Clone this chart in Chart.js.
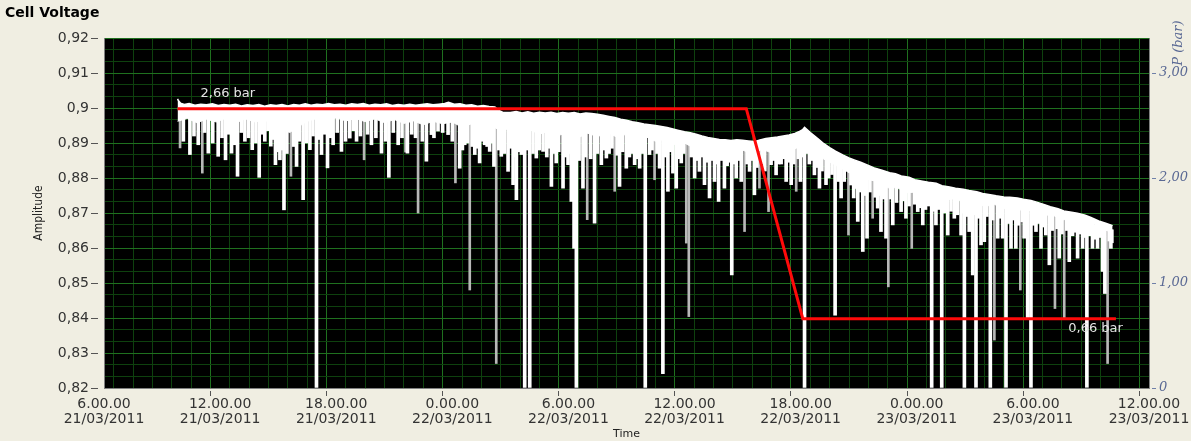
<!DOCTYPE html>
<html>
<head>
<meta charset="utf-8">
<script src="https://cdn.jsdelivr.net/npm/chart.js@4/dist/chart.umd.min.js"></script>
<style>
  html, body { margin: 0; padding: 0; background: #F0EEE2; }
  canvas { display: block; }
</style>
</head>
<body>
<canvas id="chart" width="1191" height="441"></canvas>
<script>
// Time axis: hours since 21/03/2011 06:00
const xTickLabels = [
  ['6.00.00', '21/03/2011'], ['12.00.00', '21/03/2011'], ['18.00.00', '21/03/2011'],
  ['0.00.00', '22/03/2011'], ['6.00.00', '22/03/2011'], ['12.00.00', '22/03/2011'],
  ['18.00.00', '22/03/2011'], ['0.00.00', '23/03/2011'], ['6.00.00', '23/03/2011'],
  ['12.00.00', '23/03/2011']
];
const yTickLabels = ['0,82', '0,83', '0,84', '0,85', '0,86', '0,87', '0,88', '0,89', '0,9', '0,91', '0,92'];
const pTickLabels = ['0', '1,00', '2,00', '3,00'];

// Cell voltage: upper edge of the trace [hour, V]
const bandTop = [
  [3.80, 0.9026], [3.86, 0.9020], [3.95, 0.9014], [4.15, 0.9010], [4.4, 0.9013], [4.7, 0.9008],
  [5.0, 0.9011], [5.3, 0.9009], [5.6, 0.9012], [5.9, 0.9007], [6.2, 0.9010], [6.5, 0.9008],
  [6.8, 0.9011], [7.1, 0.9006], [7.4, 0.9009], [7.7, 0.9007], [8.0, 0.9010], [8.3, 0.9005],
  [8.6, 0.9009], [8.9, 0.9007], [9.2, 0.9010], [9.5, 0.9006], [9.8, 0.9010], [10.1, 0.9008],
  [10.4, 0.9012], [10.7, 0.9008], [11.0, 0.9011], [11.3, 0.9009], [11.6, 0.9013], [11.9, 0.9009],
  [12.2, 0.9011], [12.5, 0.9008], [12.8, 0.9012], [13.1, 0.9010], [13.4, 0.9013], [13.7, 0.9008],
  [14.0, 0.9011], [14.3, 0.9009], [14.6, 0.9012], [14.9, 0.9007], [15.2, 0.9010], [15.5, 0.9008],
  [15.8, 0.9011], [16.1, 0.9008], [16.4, 0.9010], [16.7, 0.9012], [17.0, 0.9009], [17.3, 0.9011],
  [17.6, 0.9013], [17.8, 0.9016], [18.1, 0.9011], [18.4, 0.9012], [18.7, 0.9008], [19.0, 0.9009],
  [19.3, 0.9005], [19.6, 0.9007], [19.9, 0.9004], [20.2, 0.9003], [20.4, 0.8993], [20.6, 0.8988],
  [21.0, 0.8987], [21.3, 0.8990], [21.6, 0.8986], [21.9, 0.8989], [22.2, 0.8985], [22.5, 0.8988],
  [22.8, 0.8986], [23.1, 0.8988], [23.4, 0.8984], [23.7, 0.8987], [24.0, 0.8985], [24.3, 0.8987],
  [24.6, 0.8983], [24.9, 0.8986], [25.2, 0.8984], [25.5, 0.8982], [25.8, 0.8979], [26.1, 0.8976],
  [26.4, 0.8973], [26.7, 0.8968], [27.0, 0.8965], [27.3, 0.8961], [27.6, 0.8958], [27.9, 0.8954],
  [28.2, 0.8952], [28.5, 0.8950], [28.8, 0.8947], [29.1, 0.8944], [29.4, 0.8940], [29.7, 0.8936],
  [30.0, 0.8932], [30.3, 0.8929], [30.6, 0.8925], [30.9, 0.8920], [31.2, 0.8916], [31.5, 0.8913],
  [31.8, 0.8910], [32.1, 0.8909], [32.4, 0.8907], [32.7, 0.8909], [33.0, 0.8908], [33.3, 0.8906],
  [33.6, 0.8904], [33.9, 0.8909], [34.2, 0.8913], [34.5, 0.8915], [34.8, 0.8917], [35.1, 0.8920],
  [35.4, 0.8923], [35.7, 0.8927], [35.9, 0.8932], [36.1, 0.8938], [36.2, 0.8945], [36.3, 0.8940],
  [36.5, 0.8930], [36.9, 0.8912], [37.2, 0.8898], [37.5, 0.8887], [37.8, 0.8877], [38.2, 0.8865],
  [38.5, 0.8857], [38.8, 0.8851], [39.1, 0.8845], [39.5, 0.8836], [39.8, 0.8829], [40.2, 0.8822],
  [40.6, 0.8815], [40.9, 0.8812], [41.2, 0.8806], [41.6, 0.8802], [41.9, 0.8795], [42.3, 0.8791],
  [42.6, 0.8788], [43.0, 0.8785], [43.3, 0.8778], [43.7, 0.8774], [44.0, 0.8771], [44.4, 0.8768],
  [44.7, 0.8764], [45.1, 0.8761], [45.4, 0.8756], [45.8, 0.8752], [46.1, 0.8749], [46.5, 0.8746],
  [46.8, 0.8745], [47.2, 0.8743], [47.5, 0.8739], [47.9, 0.8736], [48.2, 0.8731], [48.6, 0.8724],
  [48.9, 0.8718], [49.3, 0.8712], [49.6, 0.8706], [50.0, 0.8702], [50.3, 0.8699], [50.7, 0.8694],
  [51.0, 0.8687], [51.4, 0.8677], [51.8, 0.8670], [52.12, 0.8664]
];

// Cell voltage: lower edge of the dense part of the trace [hour, V]
const bandBase = [
  [3.80, 0.8962], [4.3, 0.8970], [4.8, 0.8958], [5.3, 0.8968], [5.8, 0.8960], [6.3, 0.8971],
  [6.8, 0.8957], [7.3, 0.8969], [7.8, 0.8960], [8.3, 0.8966], [8.8, 0.8948], [9.2, 0.8938],
  [9.6, 0.8930], [10.0, 0.8945], [10.5, 0.8962], [11.0, 0.8970], [11.5, 0.8961], [12.0, 0.8972],
  [12.5, 0.8963], [13.0, 0.8970], [13.5, 0.8961], [14.0, 0.8969], [14.5, 0.8958], [15.0, 0.8967],
  [15.5, 0.8956], [16.0, 0.8963], [16.5, 0.8952], [17.0, 0.8962], [17.5, 0.8955], [18.0, 0.8960],
  [18.5, 0.8945], [19.0, 0.8955], [19.5, 0.8943], [20.0, 0.8950], [20.5, 0.8935], [21.0, 0.8942],
  [21.5, 0.8930], [22.0, 0.8938], [22.5, 0.8925], [23.0, 0.8935], [23.5, 0.8922], [24.0, 0.8930],
  [24.5, 0.8915], [25.0, 0.8928], [25.5, 0.8918], [26.0, 0.8930], [26.5, 0.8917], [27.0, 0.8925],
  [27.5, 0.8912], [28.0, 0.8918], [28.5, 0.8905], [29.0, 0.8910], [29.5, 0.8895], [30.0, 0.8900],
  [30.5, 0.8885], [31.0, 0.8890], [31.5, 0.8876], [32.0, 0.8882], [32.5, 0.8870], [33.0, 0.8880],
  [33.5, 0.8868], [34.0, 0.8882], [34.5, 0.8872], [35.0, 0.8886], [35.5, 0.8876], [36.0, 0.8893],
  [36.5, 0.8882], [37.0, 0.8860], [37.5, 0.8845], [38.0, 0.8832], [38.5, 0.8815], [39.0, 0.8810],
  [39.5, 0.8795], [40.0, 0.8790], [40.5, 0.8772], [41.0, 0.8772], [41.5, 0.8758], [42.0, 0.8760],
  [42.5, 0.8746], [43.0, 0.8750], [43.5, 0.8736], [44.0, 0.8742], [44.5, 0.8728], [45.0, 0.8733],
  [45.5, 0.8718], [46.0, 0.8725], [46.5, 0.8712], [47.0, 0.8718], [47.5, 0.8705], [48.0, 0.8708],
  [48.5, 0.8693], [49.0, 0.8695], [49.5, 0.8680], [50.0, 0.8684], [50.5, 0.8670], [51.0, 0.8672],
  [51.5, 0.8655], [52.12, 0.8645]
];

// Voltage dips: [hour, lowest V]
const dipsBright = [
  [4.44, 0.8867], [4.87, 0.8895], [5.39, 0.8871], [5.90, 0.8862], [6.28, 0.8852], [6.59, 0.8871],
  [6.90, 0.8805], [7.28, 0.8905], [7.66, 0.8881], [8.02, 0.8802], [8.31, 0.8905], [8.62, 0.8891],
  [8.86, 0.8838], [9.09, 0.8852], [9.30, 0.8709], [9.95, 0.8833], [10.29, 0.8738], [10.64, 0.8881],
  [10.98, 0.8202], [11.24, 0.8867], [11.55, 0.8829], [11.84, 0.8895], [12.27, 0.8876], [12.70, 0.8914],
  [13.05, 0.8905], [13.82, 0.8895], [14.34, 0.8871], [14.72, 0.8802], [15.20, 0.8895],
  [4.10, 0.8905], [4.65, 0.8920], [5.20, 0.8930], [5.62, 0.8900], [6.10, 0.8915], [6.45, 0.8925],
  [6.75, 0.8895], [7.10, 0.8930], [7.47, 0.8915], [7.85, 0.8900], [8.17, 0.8925], [8.47, 0.8935],
  [8.74, 0.8910], [8.98, 0.8875], [9.20, 0.8880], [9.45, 0.8870], [9.80, 0.8890], [10.10, 0.8905],
  [10.46, 0.8900], [10.80, 0.8920], [11.10, 0.8910], [11.40, 0.8925], [11.70, 0.8915], [12.05, 0.8930],
  [12.48, 0.8905], [12.88, 0.8935], [13.25, 0.8920], [13.62, 0.8925], [14.05, 0.8915], [14.55, 0.8905],
  [14.95, 0.8930], [15.40, 0.8915],
  [15.68, 0.8871], [16.66, 0.8848], [16.92, 0.8924], [17.26, 0.8934], [17.78, 0.8924], [18.38, 0.8828],
  [18.64, 0.8895], [19.16, 0.8867], [19.41, 0.8843], [19.67, 0.8895], [19.93, 0.8876], [20.15, 0.8833],
  [20.53, 0.8862], [20.88, 0.8819], [21.14, 0.8781], [21.31, 0.8738], [21.57, 0.8867], [21.74, 0.8202],
  [22.00, 0.8202], [22.34, 0.8857], [22.69, 0.8876], [23.12, 0.8776], [23.37, 0.8843], [23.72, 0.8771],
  [23.98, 0.8838], [24.15, 0.8733], [24.29, 0.8599], [24.41, 0.8202], [24.75, 0.8771], [25.35, 0.8671],
  [25.70, 0.8838], [25.96, 0.8857], [26.64, 0.8776], [26.99, 0.8828], [27.42, 0.8838], [27.68, 0.8828],
  [27.97, 0.8202],
  [15.90, 0.8925], [16.10, 0.8915], [16.45, 0.8905], [17.05, 0.8915], [17.50, 0.8930], [18.00, 0.8905],
  [18.52, 0.8880], [18.78, 0.8900], [19.03, 0.8890], [19.29, 0.8885], [19.54, 0.8905], [19.80, 0.8890],
  [20.05, 0.8900], [20.40, 0.8880], [20.70, 0.8870], [21.00, 0.8885], [21.22, 0.8860], [21.45, 0.8875],
  [21.88, 0.8880], [22.17, 0.8870], [22.50, 0.8880], [22.88, 0.8860], [23.00, 0.8885], [23.25, 0.8870],
  [23.50, 0.8875], [23.85, 0.8860], [24.05, 0.8870], [24.55, 0.8850], [24.88, 0.8860], [25.15, 0.8855],
  [25.50, 0.8870], [25.83, 0.8880], [26.10, 0.8870], [26.25, 0.8885], [26.52, 0.8865], [26.80, 0.8875],
  [27.15, 0.8860], [27.30, 0.8870], [27.55, 0.8855], [27.82, 0.8870],
  [28.19, 0.8867], [28.71, 0.8828], [28.88, 0.8241], [29.14, 0.8762], [29.40, 0.8814], [29.57, 0.8771],
  [29.83, 0.8843], [30.52, 0.8800], [30.77, 0.8819], [31.03, 0.8781], [31.29, 0.8743], [31.55, 0.8790],
  [31.76, 0.8733], [32.06, 0.8771], [32.44, 0.8523], [32.67, 0.8800], [32.93, 0.8790], [33.36, 0.8819],
  [33.61, 0.8752], [34.47, 0.8838], [34.73, 0.8809], [34.99, 0.8840], [35.25, 0.8790], [35.51, 0.8781],
  [35.99, 0.8790], [36.20, 0.8202], [36.45, 0.8840], [36.71, 0.8809], [36.97, 0.8771], [37.31, 0.8781],
  [37.78, 0.8408], [38.09, 0.8743], [38.74, 0.8743], [38.95, 0.8676], [39.21, 0.8590], [39.43, 0.8628],
  [39.98, 0.8714], [40.15, 0.8647], [40.41, 0.8628],
  [28.32, 0.8880], [28.58, 0.8870], [29.00, 0.8860], [29.27, 0.8875], [29.70, 0.8855], [29.95, 0.8870],
  [30.35, 0.8860], [30.65, 0.8850], [30.90, 0.8860], [31.16, 0.8845], [31.42, 0.8850], [31.65, 0.8840],
  [31.90, 0.8850], [32.20, 0.8835], [32.32, 0.8845], [32.55, 0.8840], [32.80, 0.8850], [33.23, 0.8840],
  [33.48, 0.8850], [33.74, 0.8830], [34.00, 0.8840], [34.15, 0.8820], [34.60, 0.8850], [34.86, 0.8840],
  [35.12, 0.8855], [35.38, 0.8845], [35.64, 0.8840], [35.88, 0.8855], [36.08, 0.8860], [36.32, 0.8870],
  [36.58, 0.8850], [36.84, 0.8830], [37.10, 0.8820], [37.45, 0.8800], [37.62, 0.8810], [37.95, 0.8790],
  [38.25, 0.8790], [38.60, 0.8780], [38.85, 0.8770], [39.08, 0.8760], [39.32, 0.8750], [39.58, 0.8760],
  [39.85, 0.8745], [40.05, 0.8750], [40.28, 0.8740],
  [40.76, 0.8666], [41.19, 0.8704], [41.44, 0.8685], [42.05, 0.8704], [42.31, 0.8666], [42.77, 0.8202],
  [42.99, 0.8666], [43.29, 0.8202], [43.60, 0.8637], [43.94, 0.8685], [44.29, 0.8637], [44.46, 0.8202],
  [44.71, 0.8647], [44.89, 0.8523], [45.06, 0.8202], [45.32, 0.8609], [45.49, 0.8618], [45.80, 0.8202],
  [46.18, 0.8628], [46.44, 0.8628], [46.61, 0.8202], [46.87, 0.8599], [47.12, 0.8599], [47.55, 0.8628],
  [47.73, 0.8399], [47.90, 0.8202], [48.16, 0.8647], [48.42, 0.8599], [48.67, 0.8637], [48.85, 0.8552],
  [49.36, 0.8571], [49.88, 0.8561], [50.31, 0.8571], [50.57, 0.8599], [50.79, 0.8202], [51.08, 0.8599],
  [51.34, 0.8599], [51.60, 0.8533], [51.72, 0.8470], [52.03, 0.8599],
  [40.65, 0.8740], [40.95, 0.8730], [41.32, 0.8735], [41.60, 0.8720], [41.90, 0.8725], [42.18, 0.8715],
  [42.45, 0.8710], [42.62, 0.8720], [42.88, 0.8705], [43.13, 0.8710], [43.45, 0.8700], [43.77, 0.8705],
  [44.10, 0.8695], [44.38, 0.8700], [44.58, 0.8690], [44.98, 0.8695], [45.18, 0.8685], [45.62, 0.8690],
  [45.92, 0.8680], [46.30, 0.8685], [46.74, 0.8670], [46.98, 0.8680], [47.24, 0.8665], [47.45, 0.8675],
  [47.65, 0.8670], [48.02, 0.8665], [48.28, 0.8670], [48.55, 0.8660], [49.00, 0.8650], [49.25, 0.8655],
  [49.50, 0.8640], [49.75, 0.8650], [50.05, 0.8635], [50.20, 0.8645], [50.45, 0.8640], [50.68, 0.8630],
  [50.93, 0.8635], [51.20, 0.8625], [51.47, 0.8630], [51.95, 0.8620], [52.08, 0.8615]
];
const dipsFaint = [
  [3.93, 0.8886], [5.08, 0.8814], [9.66, 0.8805], [13.44, 0.8852], [15.58, 0.8874],
  [16.23, 0.8700], [18.16, 0.8786], [18.90, 0.8480], [20.27, 0.8270], [24.97, 0.8681], [26.39, 0.8762],
  [28.45, 0.8795], [30.09, 0.8614], [30.22, 0.8404], [33.10, 0.8647], [33.87, 0.8771], [34.34, 0.8704],
  [35.77, 0.8762], [38.47, 0.8637], [39.72, 0.8685],
  [40.53, 0.8489], [41.74, 0.8599], [46.01, 0.8337], [47.35, 0.8480], [49.14, 0.8427], [49.62, 0.8399],
  [51.86, 0.8270]
];

// Pressure set point [hour, bar]
const pressure = [[3.80, 2.66], [33.19, 2.66], [36.11, 0.66], [52.29, 0.66]];

const GRID_MAJOR = '#1f701f';
const GRID_MINOR = '#0e410e';
const FONT = "'DejaVu Sans', Verdana, sans-serif";

const toXY = arr => arr.map(([x, y]) => ({ x, y }));
function topNear(h) {
  let best = bandTop[0];
  for (const p of bandTop) if (Math.abs(p[0] - h) < Math.abs(best[0] - h)) best = p;
  return best[1];
}
const toDip = arr => arr.map(([h, lo]) => ({ x: h, y: [lo, topNear(h) - 0.0012] }));
const fmtBar = v => v.toFixed(2).replace('.', ',') + ' bar';

const hourTicks = Array.from({ length: 55 }, (_, i) => i);
const voltTicks = Array.from({ length: 31 }, (_, i) => 0.82 + i / 300);

const panel = {
  id: 'panel',
  beforeDraw(chart) {
    const { ctx, chartArea: a } = chart;
    ctx.save();
    ctx.fillStyle = '#F0EEE2';
    ctx.fillRect(0, 0, chart.width, chart.height);
    ctx.fillStyle = '#000000';
    ctx.fillRect(a.left, a.top, a.right - a.left, a.bottom - a.top);
    ctx.restore();
  }
};

const annotations = {
  id: 'annotations',
  afterDatasetsDraw(chart) {
    const { ctx, scales: { x, y1 } } = chart;
    const first = pressure[0], last = pressure[pressure.length - 1];
    ctx.save();
    ctx.font = '13px ' + FONT;
    ctx.fillStyle = '#e4e4e4';
    ctx.textBaseline = 'middle';
    ctx.textAlign = 'left';
    ctx.fillText(fmtBar(first[1]), x.getPixelForValue(first[0]) + 23, y1.getPixelForValue(first[1]) - 15);
    ctx.textAlign = 'right';
    ctx.fillText(fmtBar(last[1]), x.getPixelForValue(last[0]) + 7, y1.getPixelForValue(last[1]) + 10);
    ctx.restore();
  },
  afterDraw(chart) {
    const { ctx } = chart;
    ctx.save();
    ctx.translate(1179, 43);
    ctx.rotate(-Math.PI / 2);
    ctx.font = "italic 13px 'DejaVu Serif', serif";
    ctx.fillStyle = '#5a6994';
    ctx.textAlign = 'center';
    ctx.textBaseline = 'middle';
    ctx.fillText('P (bar)', 0, 0);
    ctx.restore();
  }
};

new Chart(document.getElementById('chart'), {
  type: 'line',
  data: {
    datasets: [
      {
        label: 'P',
        yAxisID: 'y1',
        data: toXY(pressure),
        borderColor: '#ff0a0a',
        borderWidth: 3,
        pointRadius: 0,
        tension: 0,
        fill: false
      },
      {
        label: 'Cell Voltage',
        data: toXY(bandTop),
        borderColor: '#ffffff',
        borderWidth: 1.5,
        backgroundColor: '#ffffff',
        pointRadius: 0,
        tension: 0,
        fill: '+1'
      },
      {
        label: 'Cell Voltage base',
        data: toXY(bandBase),
        borderColor: '#ffffff',
        borderWidth: 1,
        pointRadius: 0,
        tension: 0,
        fill: false
      },
      {
        type: 'bar',
        label: 'dips',
        data: toDip(dipsBright),
        backgroundColor: '#ffffff',
        borderWidth: 0,
        barThickness: 3,
        grouped: false
      },
      {
        type: 'bar',
        label: 'dips faint',
        data: toDip(dipsFaint),
        backgroundColor: '#b8b8b8',
        borderWidth: 0,
        barThickness: 2,
        grouped: false
      }
    ]
  },
  options: {
    responsive: false,
    animation: false,
    devicePixelRatio: 1,
    layout: { padding: { left: 5, top: 0, right: 0, bottom: 0 } },
    plugins: {
      legend: { display: false },
      tooltip: { enabled: false },
      title: {
        display: true,
        text: 'Cell Voltage',
        align: 'start',
        color: '#000000',
        font: { family: FONT, size: 14, weight: 'bold', lineHeight: 1.2 },
        padding: { top: 5, bottom: 16.2 }
      }
    },
    scales: {
      x: {
        type: 'linear',
        min: 0,
        max: 54,
        offset: false,
        afterBuildTicks: s => { s.ticks = hourTicks.map(v => ({ value: v })); },
        afterFit: s => { s.height = 53; },
        ticks: {
          autoSkip: false,
          maxRotation: 0,
          minRotation: 0,
          padding: 1,
          color: '#333333',
          font: { family: FONT, size: 14, lineHeight: 1.08 },
          callback: v => (v % 6 === 0 ? xTickLabels[v / 6] : '')
        },
        grid: {
          color: c => (c.index % 6 === 0 ? GRID_MAJOR : GRID_MINOR),
          lineWidth: 1,
          tickLength: 8,
          tickWidth: 1,
          tickBorderDash: [0, 2, 6, 100],
          tickColor: c => (c.index % 6 === 0 ? '#555555' : 'rgba(0,0,0,0)')
        },
        border: { display: true, color: '#808080' },
        title: {
          display: true,
          text: 'Time',
          color: '#222222',
          font: { family: FONT, size: 11 },
          padding: { top: 0, bottom: 0 }
        }
      },
      y: {
        type: 'linear',
        position: 'left',
        min: 0.82,
        max: 0.92,
        afterBuildTicks: s => { s.ticks = voltTicks.map(v => ({ value: v })); },
        afterFit: s => { s.width = 99; },
        ticks: {
          autoSkip: false,
          padding: 2,
          color: '#333333',
          font: { family: FONT, size: 14 },
          callback: (v, i) => (i % 3 === 0 ? yTickLabels[i / 3] : '')
        },
        grid: {
          color: c => (c.index % 3 === 0 ? GRID_MAJOR : GRID_MINOR),
          lineWidth: 1,
          tickLength: 13,
          tickBorderDash: [7, 20],
          tickColor: c => (c.index % 3 === 0 ? '#555555' : 'rgba(0,0,0,0)')
        },
        border: { display: true, color: '#808080' },
        title: {
          display: true,
          text: 'Amplitude',
          color: '#222222',
          font: { family: "'DejaVu Sans Condensed', 'DejaVu Sans', sans-serif", size: 12 },
          padding: { top: 27, bottom: 0 }
        }
      },
      y1: {
        type: 'linear',
        position: 'right',
        min: 0,
        max: 10 / 3,
        afterBuildTicks: s => { s.ticks = [0, 1, 2, 3].map(v => ({ value: v })); },
        afterFit: s => { s.width = 42; },
        ticks: {
          autoSkip: false,
          padding: 3,
          color: '#5a6994',
          font: { family: "'DejaVu Serif', serif", size: 13, style: 'italic' },
          callback: (v, i) => pTickLabels[i]
        },
        grid: {
          drawOnChartArea: false,
          tickLength: 7,
          tickBorderDash: [0, 2, 5, 50],
          tickColor: '#7080a8'
        },
        border: { display: true, color: '#808080' }
      }
    }
  },
  plugins: [panel, annotations]
});
</script>
</body>
</html>
